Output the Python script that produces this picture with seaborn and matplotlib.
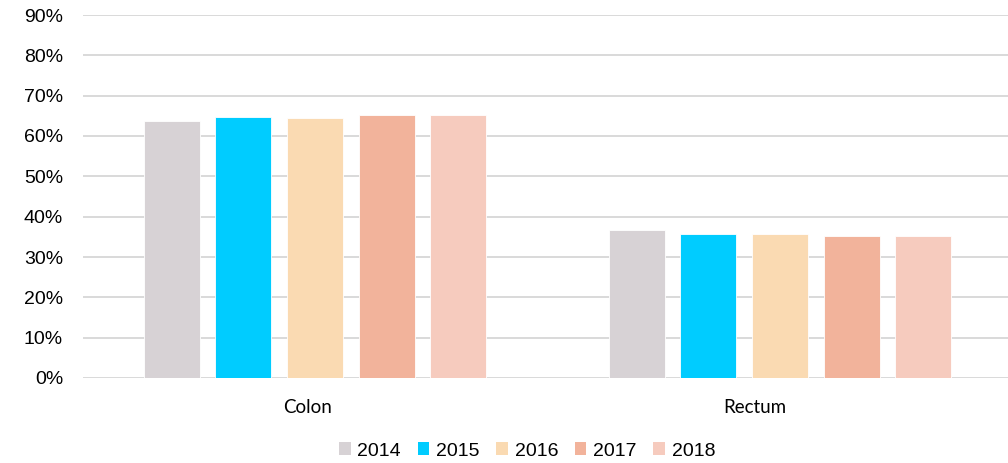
import matplotlib
matplotlib.use("Agg")
import matplotlib.pyplot as plt
import seaborn as sns
import pandas as pd
from matplotlib.ticker import PercentFormatter
from matplotlib.patches import Patch

categories = ["Colon", "Rectum"]
years = ["2014", "2015", "2016", "2017", "2018"]
values_2014 = [0.637, 0.366]
values_2015 = [0.646, 0.358]
values_2016 = [0.645, 0.357]
values_2017 = [0.651, 0.353]
values_2018 = [0.651, 0.353]
colors = ["#D7D2D5", "#00CCFF", "#FADAB2", "#F2B39B", "#F6CBBE"]

series = [values_2014, values_2015, values_2016, values_2017, values_2018]
rows = []
for y, vals in zip(years, series):
    for c, v in zip(categories, vals):
        rows.append({"Site": c, "Year": y, "Value": v})
df = pd.DataFrame(rows)

sns.set_theme(style="white")
plt.rcParams["font.family"] = ["Liberation Sans", "DejaVu Sans"]

fig = plt.figure(figsize=(10.08, 4.63), dpi=100)
ax = fig.add_axes([82.5 / 1008, 85 / 463, 930 / 1008, 363 / 463])

sns.barplot(data=df, x="Site", y="Value", hue="Year", palette=colors,
            width=0.77, gap=0.22, ax=ax, legend=False, saturation=1,
            edgecolor="white", linewidth=0.6)

ax.set_xlim(-0.5, 1.5)
ax.set_ylim(0, 0.9)
ax.set_yticks([i / 10 for i in range(10)])
ax.yaxis.set_major_formatter(PercentFormatter(1.0, decimals=0))
ax.grid(axis="y", color="#D9D9D9", linewidth=1.4)
ax.set_axisbelow(True)
for s in ax.spines.values():
    s.set_visible(False)
ax.set_xlabel("")
ax.set_ylabel("")
ax.tick_params(axis="y", length=0, pad=14)
for lbl in ax.get_yticklabels():
    lbl.set_fontfamily(["Liberation Sans", "DejaVu Sans"])
    lbl.set_fontsize(14)
    lbl.set_color("#000000")

# Excel-style category label positions (slightly left of group centres)
ax.set_xticks([0 - 7 / 465, 1 - 25 / 465])
ax.set_xticklabels(categories)
ax.tick_params(axis="x", length=0, pad=15)
for lbl in ax.get_xticklabels():
    lbl.set_fontfamily(["Lato", "DejaVu Sans"])
    lbl.set_fontsize(13.5)
    lbl.set_color("#000000")

handles = [Patch(facecolor=c, edgecolor="none") for c in colors]
leg = fig.legend(handles, years, loc="center", bbox_to_anchor=(527 / 1008, 1 - 451 / 463),
                 ncol=5, frameon=False, prop={"family": ["Liberation Sans", "DejaVu Sans"], "size": 14},
                 handlelength=0.6, handleheight=0.6,
                 handletextpad=0.35, columnspacing=0.85)
for t in leg.get_texts():
    t.set_color("#000000")

fig.savefig("out.png", dpi=100)
